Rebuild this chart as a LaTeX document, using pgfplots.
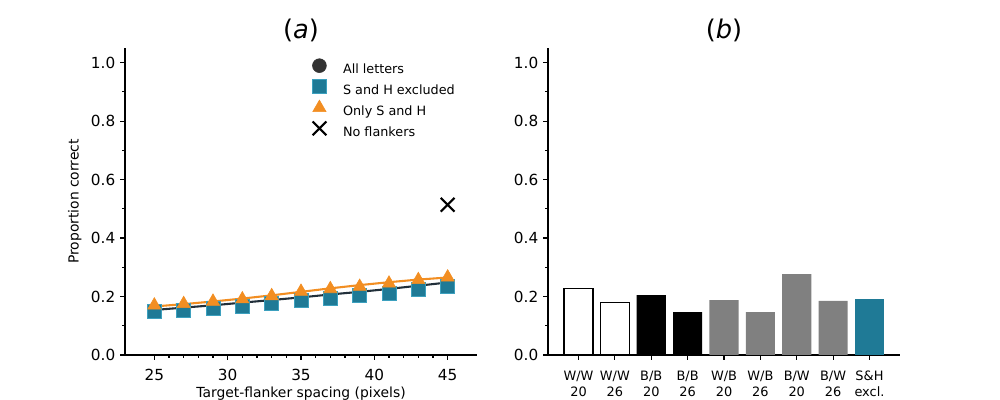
\documentclass[border=0pt]{standalone}
\usepackage{fontspec}
\setmainfont{DejaVu Sans}
\usepackage{pgfplots}
\pgfplotsset{compat=1.18}

\definecolor{tealc}{RGB}{31,122,150}
\definecolor{tealedge}{RGB}{60,160,190}
\definecolor{orangec}{RGB}{242,142,34}
\definecolor{darkc}{RGB}{51,51,51}
\definecolor{fitdark}{RGB}{33,47,58}
\definecolor{grayc}{RGB}{128,128,128}

\pgfplotsset{
  panel/.style={
    scale only axis, width=253.44pt, height=221.04pt,
    anchor=south west,
    axis x line*=bottom, axis y line*=left,
    axis line style={line width=0.8pt},
    tick align=outside,
    major tick length=3.5pt, minor tick length=2pt,
    every tick/.style={black, line width=0.8pt},
    ymin=0, ymax=1.05,
    ytick={0,0.2,0.4,0.6,0.8,1.0}, minor y tick num=1,
    y tick label style={/pgf/number format/fixed,
      /pgf/number format/fixed zerofill, /pgf/number format/precision=1},
    /pgf/number format/assume math mode=true,
    tick label style={font=\fontsize{11}{13}\selectfont},
    xticklabel shift=3.5pt,
    label style={font=\fontsize{10}{12}\selectfont},
    every axis title shift=0pt,
    title style={font=\fontsize{18.5}{20}\selectfont,
      at={(0.5,1)}, anchor=south, inner sep=0pt, yshift=4pt},
  }
}

\begin{document}
\begin{tikzpicture}

% ---- panel (a): proportion correct against spacing
\begin{axis}[panel, at={(90pt,32.4pt)},
  title={(\textit{a})},
  xmin=23, xmax=47, xtick={25,30,35,40,45}, minor x tick num=4,
  xlabel={Target-flanker spacing (pixels)},
  xlabel style={at={(axis description cs:0.5,0)}, anchor=center,
    yshift=-27.5pt},
  ylabel={Proportion correct},
  legend style={draw=none, fill=none, at={(0.52,0.975)}, anchor=north west,
    font=\fontsize{9.2}{11}\selectfont, row sep=1.4pt, column sep=11pt,
    nodes={inner sep=1pt, text height=7pt, text depth=2pt}},
  legend cell align=left,
  legend image code/.code={\draw[#1] plot coordinates {(0pt,3pt)};},
]
\addlegendimage{only marks, mark=*, mark size=5pt, color=darkc}
\addlegendentry{All letters}

\addplot[only marks, mark=square*, mark size=5pt, fill=tealc, draw=tealedge,
  line width=0.4pt] coordinates {
  (25,0.148) (27,0.152) (29,0.160) (31,0.168) (33,0.178) (35,0.186)
  (37,0.194) (39,0.205) (41,0.211) (43,0.225) (45,0.236)};
\addlegendentry{S and H excluded}

\addplot[only marks, mark=triangle*, mark size=5.5pt, color=orangec]
  coordinates {
  (25,0.170) (27,0.175) (29,0.183) (31,0.191) (33,0.202) (35,0.217)
  (37,0.226) (39,0.234) (41,0.245) (43,0.257) (45,0.266)};
\addlegendentry{Only S and H}

\addplot[only marks, mark=x, mark size=7pt, line width=1.5pt, color=black]
  coordinates {(45,0.514)};
\addlegendentry{No flankers}

% fitted curves
\addplot[line width=1.5pt, color=orangec, forget plot] coordinates {
  (25,0.166) (27,0.174) (29,0.183) (31,0.193) (33,0.204) (35,0.216)
  (37,0.228) (39,0.239) (41,0.249) (43,0.258) (45,0.265)};
\addplot[line width=1.5pt, color=fitdark, forget plot] coordinates {
  (25,0.154) (27,0.162) (29,0.170) (31,0.179) (33,0.188) (35,0.197)
  (37,0.207) (39,0.216) (41,0.226) (43,0.237) (45,0.248)};
\end{axis}

% ---- panel (b): proportion correct by condition
\begin{axis}[panel, at={(394.56pt,32.4pt)},
  title={(\textit{b})},
  xmin=-0.84, xmax=8.84,
  xtick={0,1,2,3,4,5,6,7,8},
  xticklabels={{W/W\\20},{W/W\\26},{B/B\\20},{B/B\\26},{W/B\\20},
    {W/B\\26},{B/W\\20},{B/W\\26},{S\&H\\excl.}},
  xticklabel shift=4.5pt,
  x tick label style={align=center, font=\fontsize{9.3}{11.6}\selectfont},
]
\addplot[ybar, bar width=0.8, bar shift=0pt, fill=white, draw=black,
  line width=1pt] coordinates {(0,0.228) (1,0.180)};
\addplot[ybar, bar width=0.8, bar shift=0pt, fill=black, draw=none]
  coordinates {(2,0.205) (3,0.147)};
\addplot[ybar, bar width=0.8, bar shift=0pt, fill=grayc, draw=none]
  coordinates {(4,0.188) (5,0.147) (6,0.277) (7,0.185)};
\addplot[ybar, bar width=0.8, bar shift=0pt, fill=tealc, draw=none]
  coordinates {(8,0.192)};
\end{axis}

\pgfresetboundingbox
\useasboundingbox (0,0) rectangle (720pt,288pt);
\end{tikzpicture}
\end{document}
